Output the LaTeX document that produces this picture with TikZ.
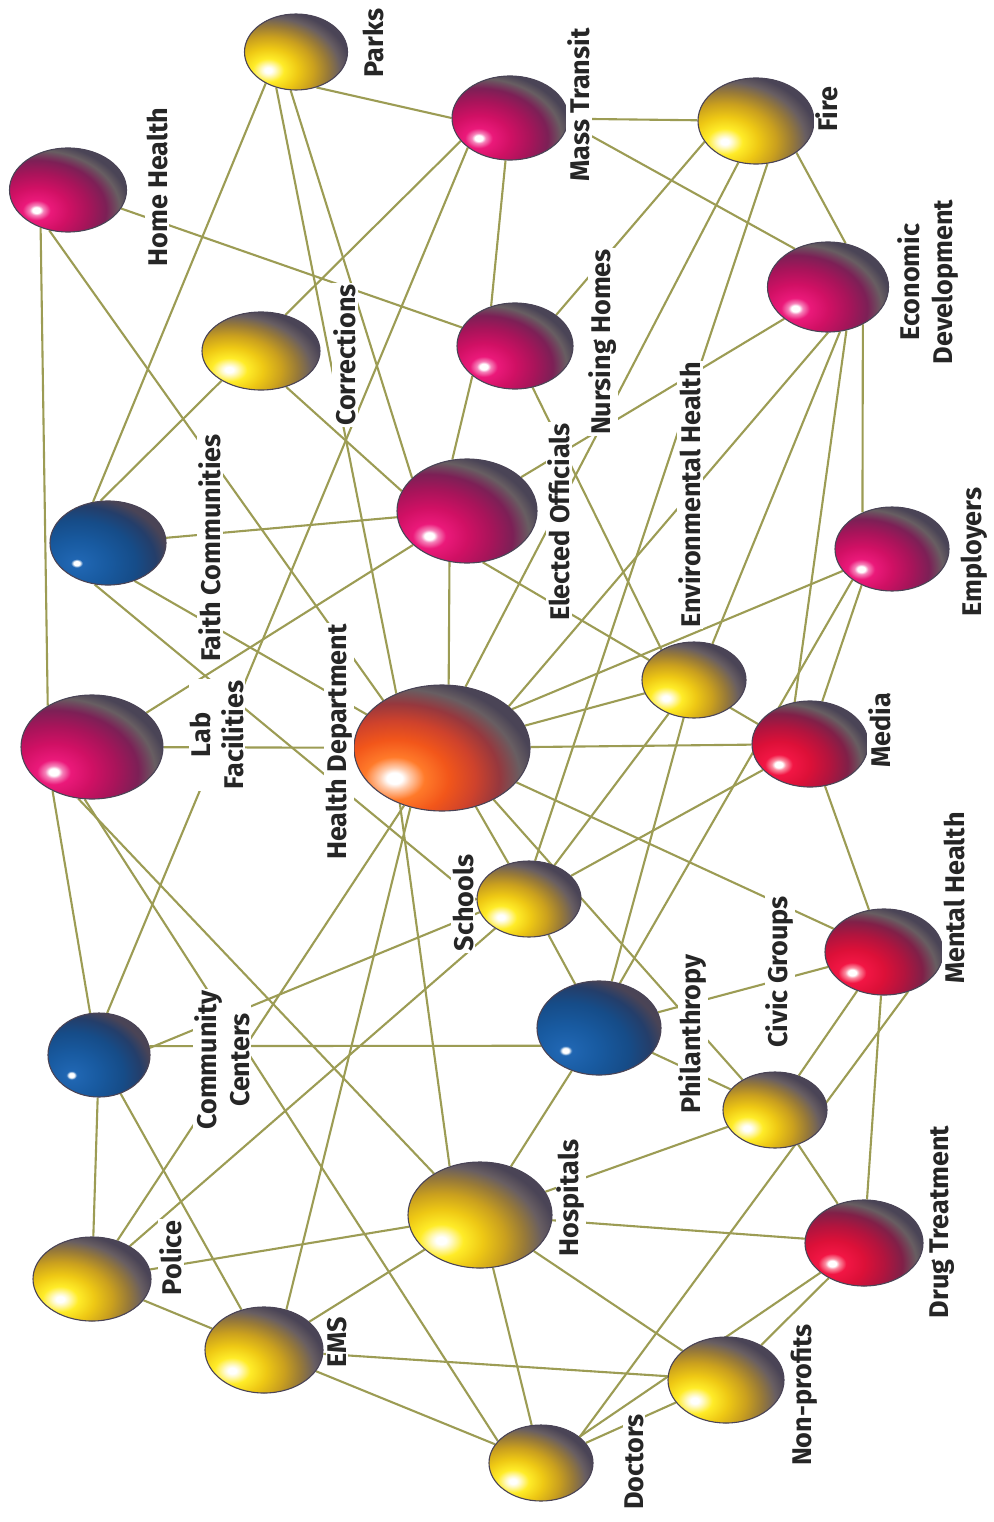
\documentclass[tikz,border=0pt]{standalone}
\usepackage{fontspec}
\setmainfont{Fira Sans}
\usetikzlibrary{shapes.geometric}
\pgfdeclarelayer{bg}
\pgfsetlayers{bg,main}
\definecolor{rim}{RGB}{74,68,86}
\definecolor{rimb}{RGB}{104,94,98}
\definecolor{linkc}{RGB}{156,156,84}
\definecolor{labc}{RGB}{38,38,38}
\definecolor{yW}{RGB}{255,250,200}\definecolor{yA}{RGB}{255,236,40}\definecolor{yB}{RGB}{238,200,20}\definecolor{yC}{RGB}{202,160,30}\definecolor{yD}{RGB}{152,122,56}
\definecolor{mW}{RGB}{245,130,185}\definecolor{mA}{RGB}{235,25,122}\definecolor{mB}{RGB}{208,16,100}\definecolor{mC}{RGB}{168,20,90}\definecolor{mD}{RGB}{124,32,86}
\definecolor{rW}{RGB}{250,140,160}\definecolor{rA}{RGB}{242,22,68}\definecolor{rB}{RGB}{220,16,56}\definecolor{rC}{RGB}{178,20,62}\definecolor{rD}{RGB}{128,32,72}
\definecolor{bA}{RGB}{32,102,178}\definecolor{bB}{RGB}{24,90,160}\definecolor{bC}{RGB}{22,76,136}\definecolor{bD}{RGB}{36,62,106}
\definecolor{oW}{RGB}{255,205,175}\definecolor{oA}{RGB}{255,122,42}\definecolor{oB}{RGB}{242,86,26}\definecolor{oC}{RGB}{206,66,44}\definecolor{oD}{RGB}{150,56,62}
\pgfdeclareradialshading{yrad}{\pgfpoint{0bp}{0bp}}{color(0bp)=(white); color(1bp)=(white); color(2bp)=(yW); color(4.5bp)=(yA); color(8.5bp)=(yB); color(13bp)=(yC); color(17bp)=(yD); color(20.5bp)=(rimb); color(23.5bp)=(rim); color(50bp)=(rim)}
\pgfdeclareradialshading{mrad}{\pgfpoint{0bp}{0bp}}{color(0bp)=(white); color(1bp)=(white); color(1.8bp)=(mW); color(3.5bp)=(mA); color(8bp)=(mB); color(13bp)=(mC); color(17.5bp)=(mD); color(21bp)=(rimb); color(23.5bp)=(rim); color(50bp)=(rim)}
\pgfdeclareradialshading{rrad}{\pgfpoint{0bp}{0bp}}{color(0bp)=(white); color(1bp)=(white); color(1.8bp)=(rW); color(3.5bp)=(rA); color(8bp)=(rB); color(13bp)=(rC); color(17.5bp)=(rD); color(21bp)=(rimb); color(23.5bp)=(rim); color(50bp)=(rim)}
\pgfdeclareradialshading{brad}{\pgfpoint{0bp}{0bp}}{color(0bp)=(white); color(0.8bp)=(white); color(1.5bp)=(bA); color(8bp)=(bB); color(15bp)=(bC); color(20bp)=(bD); color(23.5bp)=(rim); color(50bp)=(rim)}
\pgfdeclareradialshading{orad}{\pgfpoint{0bp}{0bp}}{color(0bp)=(white); color(1.3bp)=(white); color(2.5bp)=(oW); color(5bp)=(oA); color(9bp)=(oB); color(13.5bp)=(oC); color(17.5bp)=(oD); color(21bp)=(rimb); color(23.5bp)=(rim); color(50bp)=(rim)}
\tikzset{
  ball/.style n args={3}{ellipse, inner sep=0pt, minimum width=#2pt, minimum height=#3pt,
    draw=rim, line width=1.1pt, fill=rim,
    path picture={\shade[shading=#1] ([shift={(-0.27*#2,0.24*#3)}]path picture bounding box.center)
      ellipse [x radius=0.85*#2pt, y radius=0.85*#3pt];}},
  lab/.style={rotate=90, font=\fontsize{27}{33}\selectfont\bfseries, text=labc, fill=white, inner sep=1.5pt, align=center},
  link/.style={draw=linkc, line width=2.1pt}
}
\begin{document}
\begin{tikzpicture}[x=1pt,y=-1pt]
\useasboundingbox (0,0) rectangle (993,1522);
% nodes
\node[ball={yrad}{103}{76}] (parks) at (296,52) {};
\node[ball={mrad}{116}{84}] (mt) at (510,118) {};
\node[ball={yrad}{116}{86}] (fire) at (756,121) {};
\node[ball={mrad}{117}{84}] (hh) at (68,190) {};
\node[ball={mrad}{121}{90}] (ed) at (828,287) {};
\node[ball={mrad}{116}{86}] (nh) at (515,346) {};
\node[ball={yrad}{118}{78}] (corr) at (261,351) {};
\node[ball={mrad}{140}{104}] (eo) at (467,511) {};
\node[ball={brad}{116}{84}] (fc) at (108,543) {};
\node[ball={mrad}{114}{84}] (emp) at (892,549) {};
\node[ball={yrad}{104}{76}] (eh) at (694,680) {};
\node[ball={mrad}{142}{104}] (lab) at (92,747) {};
\node[ball={orad}{176}{126}] (hd) at (442,748) {};
\node[ball={rrad}{116}{86}] (media) at (810,744) {};
\node[ball={yrad}{104}{76}] (sch) at (529,899) {};
\node[ball={rrad}{118}{86}] (mh) at (884,952) {};
\node[ball={brad}{102}{84}] (cc) at (99,1055) {};
\node[ball={brad}{124}{94}] (phil) at (599,1028) {};
\node[ball={yrad}{104}{76}] (cg) at (775,1110) {};
\node[ball={yrad}{144}{106}] (hosp) at (480,1215) {};
\node[ball={yrad}{118}{84}] (pol) at (92,1279) {};
\node[ball={rrad}{118}{86}] (dt) at (864,1243) {};
\node[ball={yrad}{118}{86}] (ems) at (264,1350) {};
\node[ball={yrad}{116}{86}] (np) at (726,1380) {};
\node[ball={yrad}{104}{76}] (doc) at (541,1463) {};
% labels
\node[lab] (lparks) at (373,43) {Parks};
\node[lab] (lmt) at (579,105) {Mass Transit};
\node[lab] (lfire) at (827,109) {Fire};
\node[lab] (lhh) at (157,187) {Home Health};
\node[lab] (led) at (928,282) {Economic\\Development};
\node[lab] (lnh) at (603,342) {Nursing Homes};
\node[lab] (lcorr) at (345,355) {Corrections};
\node[lab] (leo) at (559,522) {Elected Officials};
\node[lab] (lfc) at (210,548) {Faith Communities};
\node[lab] (lemp) at (974,552) {Employers};
\node[lab] (leh) at (690,495) {Environmental Health};
\node[lab] (llab) at (217,735) {Lab\\Facilities};
\node[lab] (lhd) at (339,742) {Health Department};
\node[lab] (lmedia) at (880,730) {Media};
\node[lab] (lsch) at (463,903) {Schools};
\node[lab] (lmh) at (954,898) {Mental Health};
\node[lab] (lcg) at (780,972) {Civic Groups};
\node[lab] (lphil) at (693,1034) {Philanthropy};
\node[lab] (lcc) at (222,1060) {Community\\Centers};
\node[lab] (lhosp) at (571,1198) {Hospitals};
\node[lab] (lpol) at (171,1258) {Police};
\node[lab] (lems) at (337,1342) {EMS};
\node[lab] (ldt) at (942,1222) {Drug Treatment};
\node[lab] (lnp) at (804,1395) {Non-profits};
\node[lab] (ldoc) at (634,1462) {Doctors};
% connectors
\begin{pgfonlayer}{bg}
\fill[white] (0,0) rectangle (993,1522);
\draw[link] (parks.300) -- (mt.180);
\draw[link] (parks.226) -- (fc.110);
\draw[link] (parks.241) -- (hd.130);
\draw[link] (parks.262) -- (eo.149);
\draw[link] (mt) -- (fire);
\draw[link] (mt.355) -- (ed.131);
\draw[link] (mt.264) -- (nh.121);
\draw[link] (mt.205) -- (corr.56);
\draw[link] (mt.215) -- (cc.79);
\draw[link] (fire.322) -- (ed.68);
\draw[link] (fire.202) -- (nh.37);
\draw[link] (fire.247) -- (hd.69);
\draw[link] (fire.285) -- (sch.81);
\draw[link] (hh) -- (nh);
\draw[link] (hh.234) -- (lab.137);
\draw[link] (hh.245) -- (hd.141);
\draw[link] (ed.270) -- (hd.32);
\draw[link] (ed.285) -- (eh.63);
\draw[link] (ed.293) -- (media.110);
\draw[link] (ed.313) -- (emp.129);
\draw[link] (ed.216) -- (eo.32);
\draw[link] (nh.293) -- (eh.137);
\draw[link] (nh.215) -- (eo.106);
\draw[link] (corr.305) -- (eo.163);
\draw[link] (corr.217) -- (fc.100);
\draw[link] (eo) -- (fc);
\draw[link] (eo) -- (lab);
\draw[link] (eo.251) -- (hd.84);
\draw[link] (eo.287) -- (media.159);
\draw[link] (fc.305) -- (hd.156);
\draw[link] (fc.252) -- (sch.181);
\draw[link] (emp.230) -- (media.74);
\draw[link] (emp.218) -- (phil.65);
\draw[link] (emp.204) -- (hd.29);
\draw[link] (eh) -- (hd);
\draw[link] (eh) -- (phil);
\draw[link] (eh) -- (sch);
\draw[link] (lab) -- (hd);
\draw[link] (lab.228) -- (cc.102);
\draw[link] (lab.255) -- (hosp.138);
\draw[link] (lab.262) -- (doc.153);
\draw[link] (hd) -- (media);
\draw[link] (hd) -- (mh);
\draw[link] (hd) -- (sch);
\draw[link] (hd.315) -- (cg.137);
\draw[link] (hd) -- (pol);
\draw[link] (hd.242) -- (ems.61);
\draw[link] (hd.233) -- (hosp.122);
\draw[link] (media) -- (mh);
\draw[link] (media) -- (sch);
\draw[link] (sch.195) -- (cc.8);
\draw[link] (sch) -- (phil);
\draw[link] (sch) -- (pol);
\draw[link] (mh) -- (cg);
\draw[link] (mh) -- (phil);
\draw[link] (mh) -- (dt);
\draw[link] (mh.301) -- (doc.34);
\draw[link] (cc.10) -- (phil.197);
\draw[link] (cc) -- (pol);
\draw[link] (cc) -- (ems);
\draw[link] (phil) -- (cg);
\draw[link] (phil) -- (hosp);
\draw[link] (cg) -- (hosp);
\draw[link] (cg) -- (dt);
\draw[link] (hosp) -- (pol);
\draw[link] (hosp) -- (ems);
\draw[link] (hosp) -- (dt);
\draw[link] (hosp) -- (np);
\draw[link] (hosp) -- (doc);
\draw[link] (pol) -- (ems);
\draw[link] (ems) -- (np);
\draw[link] (ems) -- (doc);
\draw[link] (dt) -- (np);
\draw[link] (dt) -- (doc);
\draw[link] (np) -- (doc);
\end{pgfonlayer}
\end{tikzpicture}
\end{document}
